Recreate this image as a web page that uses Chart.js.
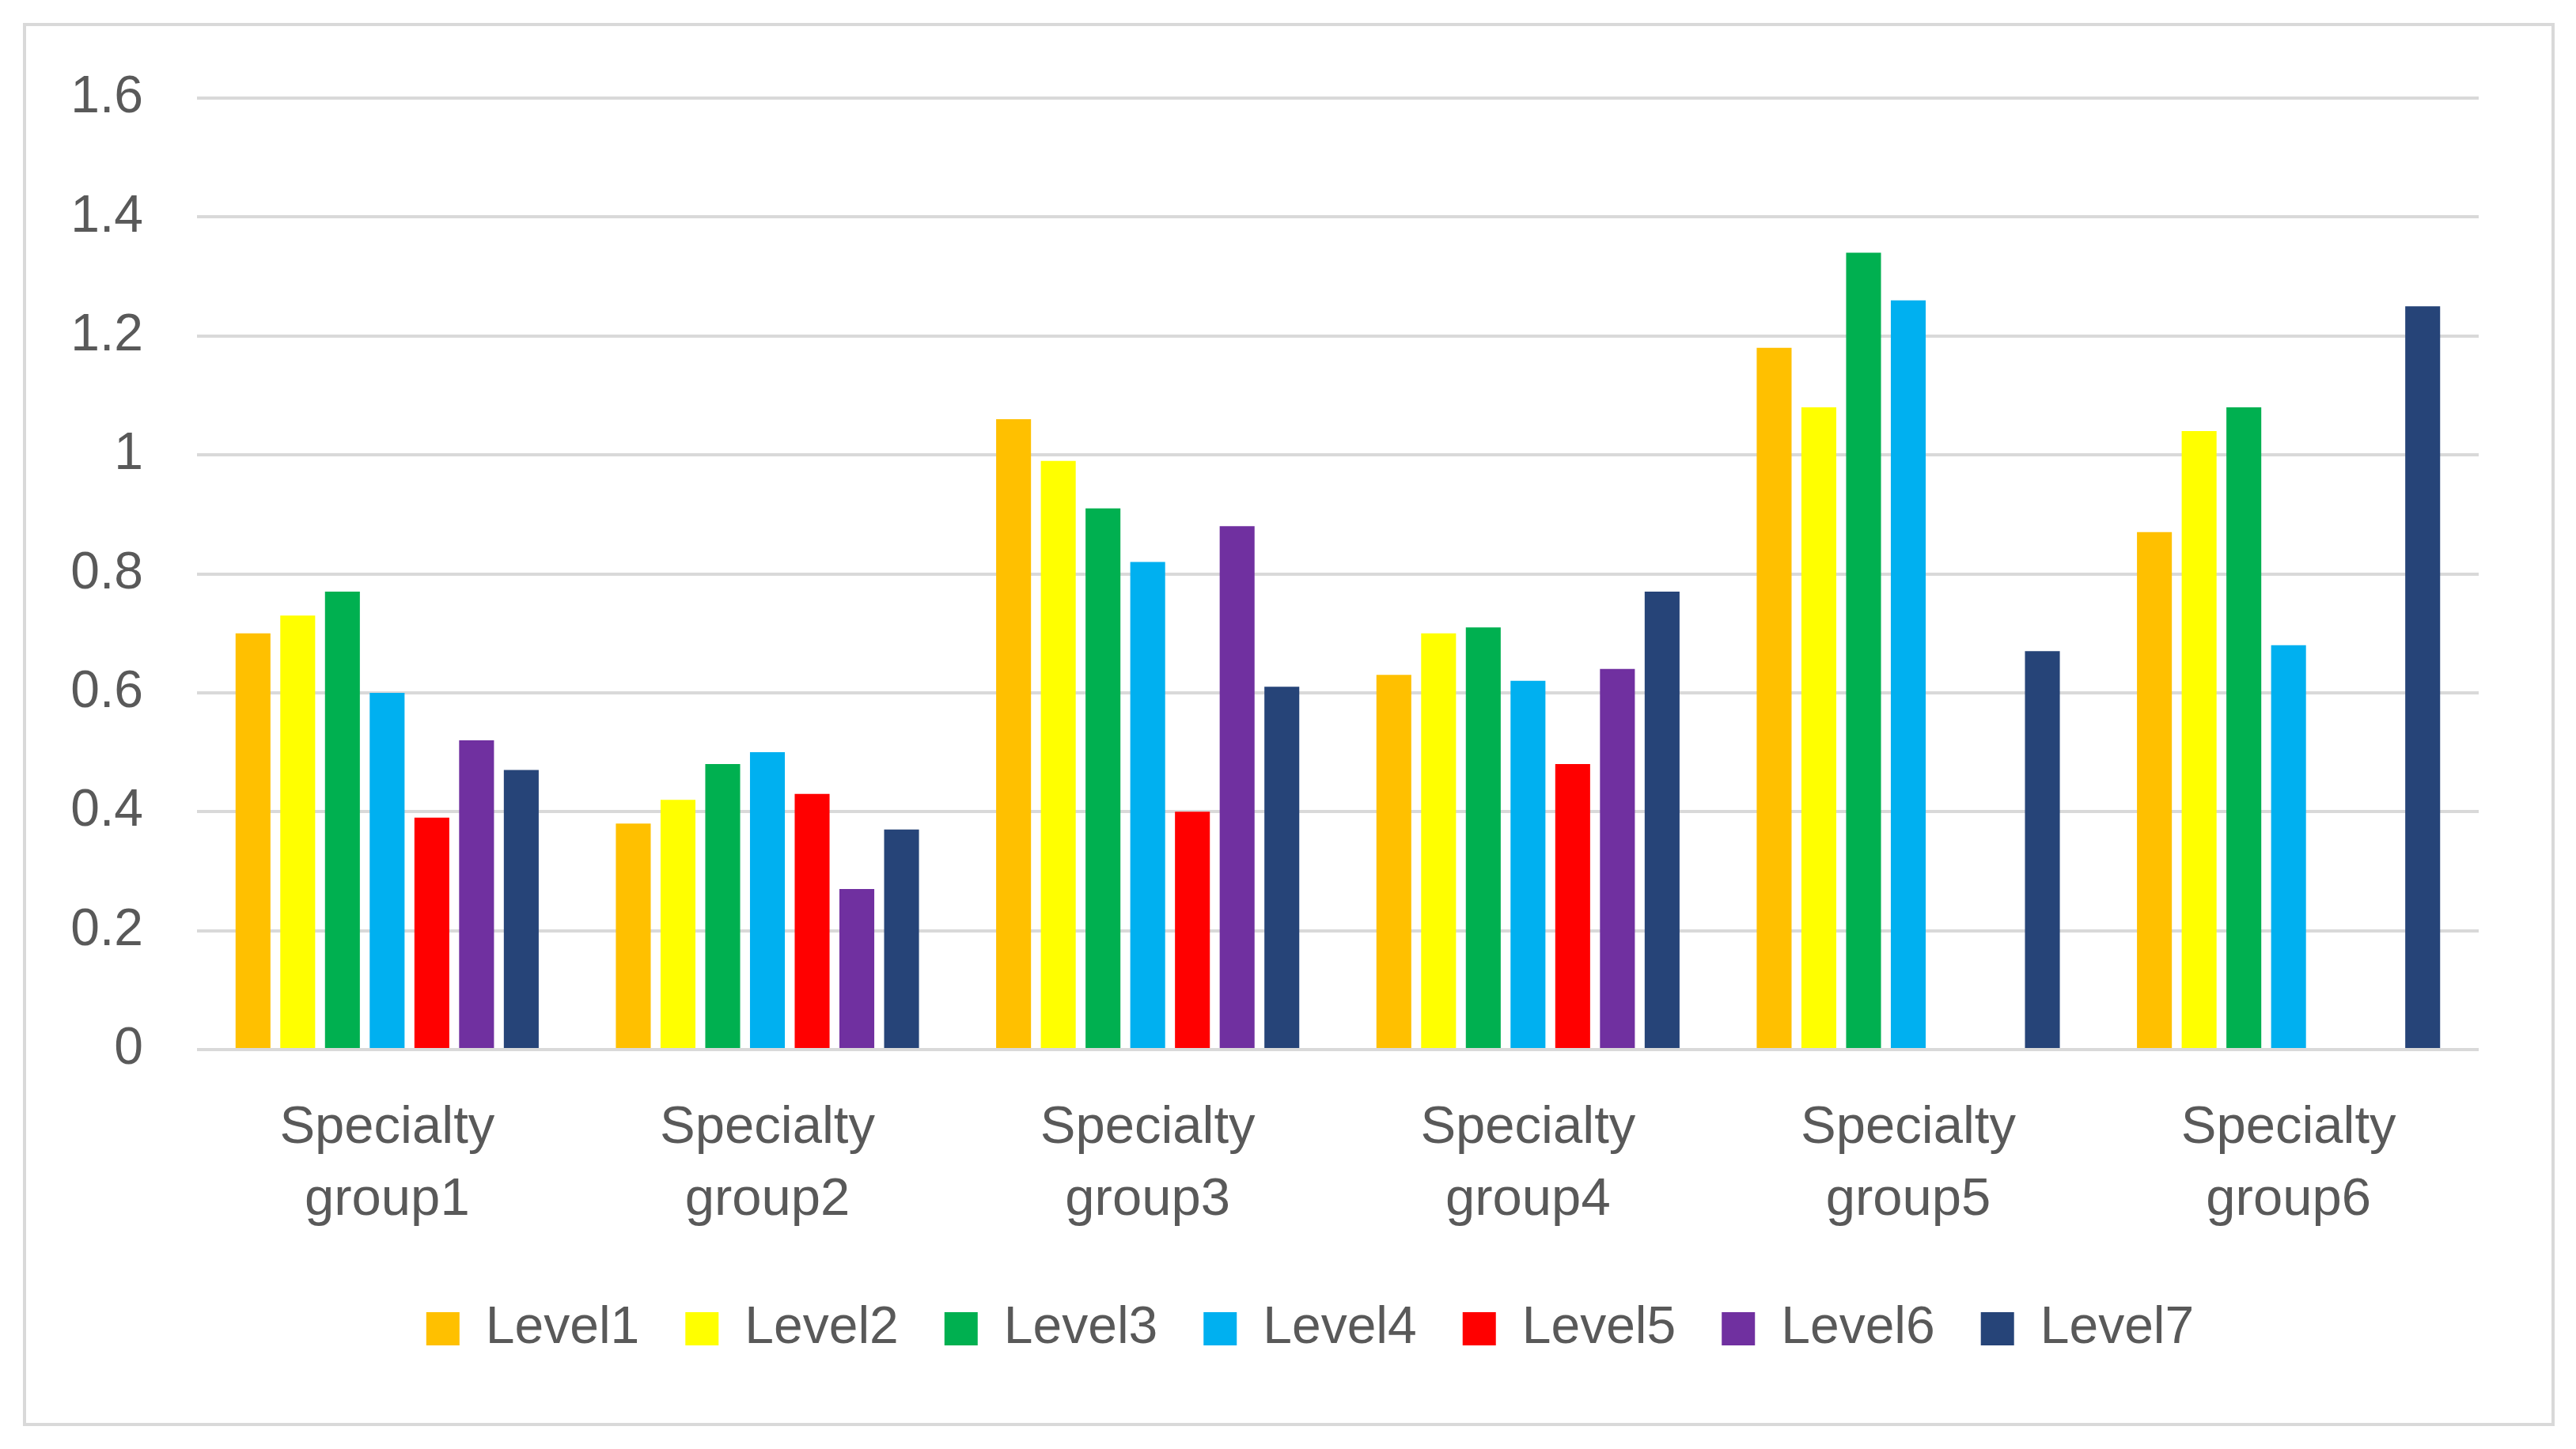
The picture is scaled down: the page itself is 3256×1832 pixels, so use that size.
<!DOCTYPE html>
<html>
<head>
<meta charset="utf-8">
<script src="https://cdn.jsdelivr.net/npm/chart.js@4"></script>
<style>
  html, body { margin: 0; padding: 0; background: #fff; }
  #box {
    position: absolute; left: 29px; top: 29px;
    width: 3192px; height: 1766px;
    border: 4px solid #d9d9d9;
  }
</style>
</head>
<body>
<div id="box"><canvas id="myChart"></canvas></div>
<script>
// Categories and series
const categories = [
  ['Specialty', 'group1'], ['Specialty', 'group2'], ['Specialty', 'group3'],
  ['Specialty', 'group4'], ['Specialty', 'group5'], ['Specialty', 'group6']
];
const level1 = [0.70, 0.38, 1.06, 0.63, 1.18, 0.87];
const level2 = [0.73, 0.42, 0.99, 0.70, 1.08, 1.04];
const level3 = [0.77, 0.48, 0.91, 0.71, 1.34, 1.08];
const level4 = [0.60, 0.50, 0.82, 0.62, 1.26, 0.68];
const level5 = [0.39, 0.43, 0.40, 0.48, null, null];
const level6 = [0.52, 0.27, 0.88, 0.64, null, null];
const level7 = [0.47, 0.37, 0.61, 0.77, 0.67, 1.25];
const yTicks = [0, 0.2, 0.4, 0.6, 0.8, 1, 1.2, 1.4, 1.6];

const seriesNames = ['Level1', 'Level2', 'Level3', 'Level4', 'Level5', 'Level6', 'Level7'];
const seriesValues = [level1, level2, level3, level4, level5, level6, level7];
const colors = ['#FFC000', '#FFFF00', '#00B050', '#00B0F0', '#FF0000', '#7030A0', '#264478'];

const textColor = '#595959';
const fontFamily = '"Liberation Sans", Arial, sans-serif';

const datasets = seriesNames.map((name, i) => ({
  label: name,
  data: seriesValues[i],
  backgroundColor: colors[i],
  borderWidth: 0,
  barPercentage: 0.78,
  categoryPercentage: 0.823
}));

const config = {
  type: 'bar',
  data: { labels: categories, datasets: datasets },
  options: {
    responsive: true,
    maintainAspectRatio: false,
    animation: false,
    devicePixelRatio: 1,
    layout: { padding: { top: 91, right: 0, bottom: 76, left: 54 } },
    plugins: {
      legend: {
        position: 'bottom',
        labels: {
          boxWidth: 42,
          boxHeight: 42,
          padding: 58,
          color: textColor,
          font: { family: fontFamily, size: 66 }
        }
      },
      tooltip: { enabled: false }
    },
    scales: {
      x: {
        grid: { display: false, drawTicks: false },
        border: { display: false },
        ticks: {
          color: textColor,
          padding: 54,
          maxRotation: 0,
          font: { family: fontFamily, size: 67, lineHeight: 1.36 }
        },
        afterFit: scale => { scale.height = 262; }
      },
      y: {
        min: 0,
        max: 1.6,
        // invisible tick marks keep the labels away from the plot
        grid: { color: '#d9d9d9', lineWidth: 4, drawTicks: true, tickLength: 62, tickColor: 'rgba(0,0,0,0)' },
        border: { display: false },
        afterBuildTicks: scale => { scale.ticks = yTicks.map(v => ({ value: v })); },
        ticks: {
          color: textColor,
          padding: 6,
          font: { family: fontFamily, size: 66 },
          callback: v => String(v)
        },
        afterFit: scale => { scale.width = 162; }
      },
      // empty right-hand spacer so the plot ends where the reference does
      spacer: {
        type: 'linear',
        position: 'right',
        grid: { display: false, drawTicks: false },
        border: { display: false },
        ticks: { display: false },
        afterFit: scale => { scale.width = 92; }
      }
    }
  }
};

const ctx = document.getElementById('myChart').getContext('2d');
new Chart(ctx, config);
</script>
</body>
</html>
